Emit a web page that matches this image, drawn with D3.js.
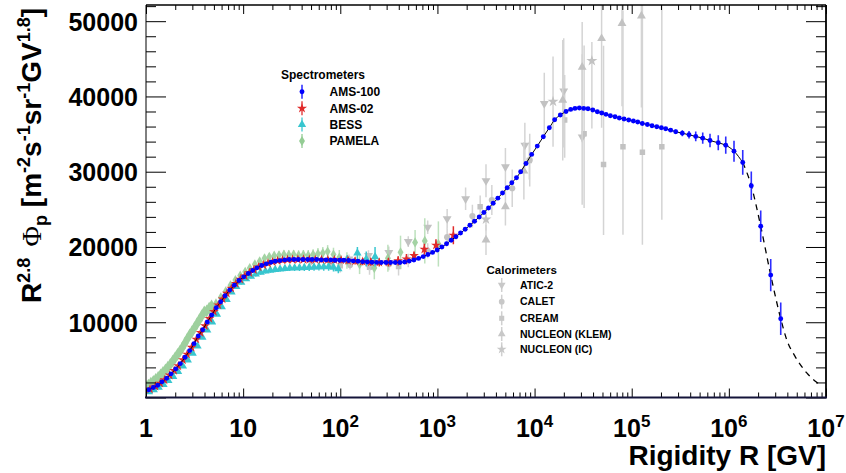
<!DOCTYPE html>
<html>
<head>
<meta charset="utf-8">
<script src="https://cdn.jsdelivr.net/npm/d3@7/dist/d3.min.js"></script>
<style>
  body { margin: 0; background: #fff; }
  svg text { font-family: "Liberation Sans", Arial, Helvetica, sans-serif; font-weight: bold; }
</style>
</head>
<body>
<svg id="chart" width="846" height="473"></svg>
<script>
// ---- data: rows are [rigidity GV, R^2.8 flux, err low, err high] ----
const ams100 = [
  [1.066,1020,0],[1.189,1325,0],[1.32,1630,0],[1.461,2080,0],[1.634,2560,0],[1.809,3140,0],
  [2.022,3800,0],[2.255,4505,0],[2.52,5340,0],[2.818,6230,0],[3.12,7155,0],[3.455,8175,0],
  [3.835,9010,0],[4.277,10030,0],[4.746,10960,0],[5.292,11925,0],[5.875,12720,0],[6.508,13515,0],
  [7.272,14270,0],[8.11,14930,0],[9.07,15540,0],[10.13,16030,0],[11.3,16470,0],[12.54,16870,0],
  [13.89,17225,0],[15.52,17530,0],[17.31,17755,0],[19.36,17980,0],[21.43,18110,0],[23.96,18190,0],
  [26.78,18285,0],[29.87,18325,0],[33.4,18325,0],[37.0,18325,0],[41.3,18325,0],[46.2,18325,0],
  [51.2,18325,0],[57.2,18325,0],[63.8,18285,0],[71.3,18285,0],[79.7,18285,0],[88.3,18245,0],
  [98.6,18245,0],[109,18230,0],[121.9,18200,0],[136.1,18150,0],[152.1,18100,0],[169.8,18050,0],
  [189.7,18000,0],[211.8,17970,0],[236.6,17950,0],[264.2,17940,0],[295.1,17930,0],[329.6,17930,0],
  [368.1,17930,0],[411.1,17940,0],[459.2,18000,0],[512.9,18120,0],[572.8,18280,0],[639.7,18480,0],
  [714.5,18720,0],[798,19000,0],[891.3,19280,0],[995.4,19600,0],[1112,20000,0],[1242,20430,0],
  [1387,20890,0],[1549,21360,0],[1730,21850,0],[1932,22350,0],[2158,22880,0],[2410,23420,0],
  [2692,23990,0],[3006,24570,0],[3357,25170,0],[3750,25810,0],[4188,26490,0],[4677,27160,0],
  [5224,27860,0],[5834,28540,0],[6516,29200,0],[7194,30000,0],[8166,31100,0],[9333,32300,0],
  [10666,33400,0],[12303,34650,0],[14191,35840,0],[16106,36900,0],[18408,37525,0],[21086,38010,0],
  [23550,38280,0],[26062,38410,0],[28907,38465,0],[32063,38410,0],[35481,38370,0],[39719,38200,0],
  [44259,37975,0],[49091,37790,0],[54325,37620,0],[60256,37445,0],[67298,37310,0],[74473,37125,0],
  [83368,36995,0],[93111,36860,0],[103992,36730,0],[115345,36600,0],[128529,36410,0],[144877,36280,0],
  [161808,36105,0],[181134,35975,0],[201837,35840,150],[223872,35710,200],[251768,35520,250],
  [283792,35310,300],[331894,35125,400],[389045,34900,500],[456037,34690,650],[538270,34460,750],
  [639735,34145,900],[778037,33840,1000],[928966,33520,1150],[1129795,32730,1400],[1389953,31230,1650],
  [1702159,28130,1900],[2128139,22750,2100],[2697739,16260,2150],[3419794,10470,2150]
];
// extrapolated model beyond the last solid segment
const modelTail = [
  [1389953,31230],[1702159,28130],[2128139,22750],[2697739,16260],[3419794,10470],
  [3940000,7685],[4800000,5470],[6340000,3270],[8020000,2030],[8500000,1800]
];
const ams02 = [
  [1.1,1100,30],[1.25,1470,35],[1.4,1890,40],[1.55,2330,45],[1.75,2960,50],[1.95,3580,60],
  [2.15,4190,70],[2.4,4990,80],[2.65,5750,90],[2.95,6650,100],[3.3,7730,110],[3.65,8610,120],
  [4.05,9510,130],[4.5,10490,140],[5.0,11420,150],[5.55,12280,160],[6.15,13080,170],[6.8,13830,180],
  [7.55,14500,190],[8.4,15130,200],[9.35,15690,210],[10.4,16140,220],[11.6,16560,230],[12.9,16950,240],
  [14.4,17330,250],[16.1,17610,260],[18,17840,270],[20.1,18030,280],[22.6,18160,290],[25.4,18250,300],
  [28.6,18310,300],[32.2,18330,310],[36.6,18340,320],[41.8,18340,330],[48,18330,340],[55.3,18320,350],
  [64.1,18310,360],[74.5,18300,380],[86.9,18280,400],[102,18250,420],[120,18200,440],[142,18130,460],
  [170,18060,480],[206,18000,500],[252,17950,530],[313,17980,570],[394,18150,620],[480,18400,680],
  [574,18860,500],[733,19700,730],[966,20230,780],[1459,21560,1200]
];
const bess = [
  [1.072,760,30],[1.202,1030,30],[1.349,1360,40],[1.514,1730,50],[1.698,2230,60],[1.905,2780,70],
  [2.138,3450,80],[2.399,4160,90],[2.692,4980,100],[3.02,5870,120],[3.388,6830,130],[3.802,7990,150],
  [4.266,8940,160],[4.786,10010,180],[5.37,11040,200],[6.026,12030,220],[6.761,13000,240],[7.586,14000,250],
  [8.511,14750,260],[9.55,15300,270],[10.72,15750,280],[12.02,16100,290],[13.49,16380,300],[15.14,16620,310],
  [16.98,16780,320],[19.05,16900,330],[21.38,16990,340],[23.99,17060,350],[26.92,17130,360],[30.2,17190,380],
  [33.88,17210,400],[38.02,17230,420],[42.66,17250,440],[47.86,17280,460],[53.7,17310,480],[60.26,17360,500],
  [67.61,17350,520],[75.86,17380,540],[85.11,17300,560],[95.5,17090,580],
  [118,18300,600],[150,19200,800],[185,18400,1000],[228,18700,1300]
];
const pamelaBand = [
  [1.0,1460],[1.059,1640],[1.122,1890],[1.189,2140],[1.259,2390],[1.334,2660],[1.413,3000],
  [1.496,3330],[1.585,3660],[1.679,4030],[1.778,4400],[1.884,4840],[1.995,5270],[2.113,5720],
  [2.239,6160],[2.371,6650],[2.512,7200],[2.661,7780],[2.818,8320],[2.985,8770],[3.162,9280],
  [3.35,9810],[3.548,10330],[3.758,10860],[3.981,11360],[4.217,11500],[4.467,11850],[4.732,12150]
];
const pamela = [
  [5.25,12500,200],[5.89,13300,250],[6.61,14100,250],[7.41,14900,300],[8.32,15600,300],[9.33,16200,350],
  [10.5,16700,400],[11.7,17200,400],[13.2,17700,450],[14.8,18100,450],[16.6,18500,500],[18.6,18700,500],
  [20.9,18850,500],[23.4,18900,550],[26.3,19000,550],[29.5,18950,600],[33.1,19000,600],[37.2,18900,650],
  [41.7,18950,650],[46.8,18900,700],[52.5,19000,700],[58.9,19100,750],[66.1,19200,800],[74.1,19400,850],
  [85.1,19000,900],[97.7,18600,1000],[117,18200,1100],[158,17700,1300],[224,17200,1500],[309,18500,1800],
  [417,19300,2200],[589,20600,1650],[741,20800,3000],[1023,20400,3000]
];
const atic2 = [
  [50.1,18200,400],[79.4,18000,500],[123,18400,600],[195,18860,700],[316,19250,800],[501,20710,700],
  [794,22620,900],[1259,23750,1300],[1950,26400,1500],[3162,28800,2200],[5012,30650,2500],[7943,33520,3000],
  [12589,39050,4100],[19953,40730,7500,7000],[30903,34600,9000,11000]
];
const calet = [
  [50.1,18100,400],[79.4,17900,500],[126,17600,600],[200,17500,700],[316,17700,800],[501,18200,900],
  [794,19500,1000],[1259,21300,1200],[2291,24100,1500],[3631,26240,2000],[5888,27800,2500],[8913,31540,3500]
];
const cream = [
  [100,17500,900],[200,17300,1000],[398,17400,1200],[2754,25350,1500],[8831,31480,2500],
  [20417,36860,5000,6000],[32359,35030,9860,11740],[51286,30950,9350,15800],
  [81283,33310,11700,18100],[128825,32600,12300,20000],[204174,33310,9700,18800]
];
const nucleonKlem = [
  [3162,20935,2000],[5012,25350,2500],[7762,30100,3800],[19498,39500,8000],
  [30903,43900,10000,6000],[48978,47700,11870,10000],[79433,49700,11000,8000],[125893,50700,12170,5000]
];
const nucleonIC = [
  [3162,23680,1500],[15488,39310,6000],[38905,44730,9000,2500]
];

const xDecades = [1, 10, 100, 1e3, 1e4, 1e5, 1e6, 1e7];
const yMajor = [0, 10000, 20000, 30000, 40000, 50000];

// ---- layout ----
const width = 846, height = 473;
const frame = { left: 146, right: 826, top: 5, bottom: 397.5 };

const svg = d3.select("#chart");

const x = d3.scaleLog().domain([1, 1e7]).range([frame.left, frame.right]);
const y = d3.scaleLinear().domain([0, 52150]).range([frame.bottom, frame.top]);

svg.append("defs").append("clipPath").attr("id", "clip")
  .append("rect")
  .attr("x", frame.left).attr("y", frame.top)
  .attr("width", frame.right - frame.left).attr("height", frame.bottom - frame.top);

const plot = svg.append("g").attr("clip-path", "url(#clip)");

// draws error bars and markers of one series
function drawSeries(rows, o) {
  const g = plot.append("g").attr("opacity", o.opacity || 1);
  g.selectAll("line.err")
    .data(rows.filter(d => (d[2] || 0) > 0))
    .join("line")
    .attr("class", "err")
    .attr("x1", d => x(d[0])).attr("x2", d => x(d[0]))
    .attr("y1", d => y(d[1] - d[2]))
    .attr("y2", d => y(d[1] + (d[3] !== undefined ? d[3] : d[2])))
    .attr("stroke", o.bar)
    .attr("stroke-width", o.barWidth || 1.5);
  g.selectAll("path.mk")
    .data(rows)
    .join("path")
    .attr("class", "mk")
    .attr("transform", d => `translate(${x(d[0])},${y(d[1])})${o.flip ? " rotate(180)" : ""}`)
    .attr("d", d3.symbol().type(o.symbol).size(o.size))
    .attr("fill", o.color);
}

const grey = { color: "#c2c2c2", bar: "#d4d4d4", size: 34 };

// calorimeters (behind)
drawSeries(cream, { ...grey, symbol: d3.symbolSquare, size: 30 });
drawSeries(calet, { ...grey, symbol: d3.symbolCircle, size: 30 });
drawSeries(atic2, { ...grey, symbol: d3.symbolTriangle, flip: true });
drawSeries(nucleonKlem, { ...grey, symbol: d3.symbolTriangle });
drawSeries(nucleonIC, { ...grey, symbol: d3.symbolStar, size: 38 });

// spectrometers
drawSeries(pamelaBand.map(d => [d[0], d[1], 0]),
  { color: "#94cc94", bar: "#a9d9a9", symbol: d3.symbolDiamond, size: 48, opacity: 0.9 });
drawSeries(pamela, { color: "#94cc94", bar: "#b2dcb2", symbol: d3.symbolDiamond, size: 30, opacity: 0.85 });
drawSeries(bess, { color: "#38c6cf", bar: "#38c6cf", symbol: d3.symbolTriangle, size: 30 });
drawSeries(ams02, { color: "#e02a2a", bar: "#e02a2a", symbol: d3.symbolStar, size: 30 });

// AMS-100 model line, solid then dashed
const line = d3.line().x(d => x(d[0])).y(d => y(d[1])).curve(d3.curveMonotoneX);
plot.append("path")
  .datum(ams100.filter(d => d[0] <= 1.4e6))
  .attr("fill", "none").attr("stroke", "#000").attr("stroke-width", 1)
  .attr("d", line);
plot.append("path")
  .datum(modelTail)
  .attr("fill", "none").attr("stroke", "#000").attr("stroke-width", 1.3)
  .attr("stroke-dasharray", "6,5")
  .attr("d", line);
drawSeries(ams100, { color: "#0000ff", bar: "#2d2dff", symbol: d3.symbolCircle, size: 19, barWidth: 1.6 });

// ---- axes (ticks inside the frame, ROOT style) ----
const xMinor = [];
xDecades.slice(0, -1).forEach(d => { for (let k = 2; k <= 9; k++) xMinor.push(d * k); });
const yMinor = d3.range(2000, 52001, 2000).filter(v => v % 10000 !== 0);

function tickAxis(axis, tr) {
  const g = svg.append("g").attr("transform", tr).call(axis);
  g.select(".domain").remove();
  g.selectAll(".tick line").attr("stroke", "#000").attr("stroke-width", 1);
  return g;
}
tickAxis(d3.axisBottom(x).tickValues(xDecades).tickSizeInner(-9).tickSizeOuter(0).tickFormat(""), `translate(0,${frame.bottom})`);
tickAxis(d3.axisBottom(x).tickValues(xMinor).tickSizeInner(-5).tickSizeOuter(0).tickFormat(""), `translate(0,${frame.bottom})`);
tickAxis(d3.axisTop(x).tickValues(xDecades).tickSizeInner(-9).tickSizeOuter(0).tickFormat(""), `translate(0,${frame.top})`);
tickAxis(d3.axisTop(x).tickValues(xMinor).tickSizeInner(-5).tickSizeOuter(0).tickFormat(""), `translate(0,${frame.top})`);
const yAxisG = tickAxis(d3.axisLeft(y).tickValues(yMajor).tickSizeInner(-20).tickSizeOuter(0).tickPadding(8)
  .tickFormat(d => d === 0 ? "" : d), `translate(${frame.left},0)`);
tickAxis(d3.axisLeft(y).tickValues(yMinor).tickSizeInner(-10).tickSizeOuter(0).tickFormat(""), `translate(${frame.left},0)`);
tickAxis(d3.axisRight(y).tickValues(yMajor).tickSizeInner(-20).tickSizeOuter(0).tickFormat(""), `translate(${frame.right},0)`);
tickAxis(d3.axisRight(y).tickValues(yMinor).tickSizeInner(-10).tickSizeOuter(0).tickFormat(""), `translate(${frame.right},0)`);

yAxisG.attr("font-size", 25).attr("font-family", null);
yAxisG.selectAll(".tick text").attr("fill", "#000").attr("dy", "0.36em");

// frame
svg.append("line").attr("x1", frame.left).attr("x2", frame.right).attr("y1", frame.top).attr("y2", frame.top)
  .attr("stroke", "#000").attr("stroke-width", 1.5);
svg.append("line").attr("x1", frame.right).attr("x2", frame.right).attr("y1", frame.top).attr("y2", frame.bottom)
  .attr("stroke", "#000").attr("stroke-width", 1.8);
svg.append("line").attr("x1", frame.left).attr("x2", frame.left).attr("y1", frame.top).attr("y2", frame.bottom)
  .attr("stroke", "#000").attr("stroke-width", 1);
svg.append("line").attr("x1", frame.left - 1).attr("x2", frame.right + 1).attr("y1", frame.bottom).attr("y2", frame.bottom)
  .attr("stroke", "#14143a").attr("stroke-width", 2.2);

// x tick labels: 1, 10, 10^n
xDecades.forEach((d, i) => {
  const t = svg.append("text")
    .attr("x", x(d)).attr("y", 437)
    .attr("text-anchor", "middle")
    .attr("font-size", 25);
  if (i < 2) {
    t.text(d);
  } else {
    t.append("tspan").text("10");
    t.append("tspan").attr("dy", -10).attr("font-size", 17).text(i);
  }
});

// axis titles
svg.append("text")
  .attr("x", frame.right).attr("y", 465)
  .attr("text-anchor", "end")
  .attr("font-size", 28)
  .text("Rigidity R [GV]");

const yTitle = svg.append("text")
  .attr("transform", "translate(41,8) rotate(-90)")
  .attr("text-anchor", "end")
  .attr("font-size", 28);
const yParts = [
  ["R"], ["2.8", "sup"], ["\u2009\u2009"], ["\u03A6", "sym"], ["p", "sub"], [" [m"], ["-2", "sup"], ["s"],
  ["-1", "sup"], ["sr"], ["-1", "sup"], ["GV"], ["1.8", "sup"], ["]"]
];
let shift = 0;
yParts.forEach(([s, kind]) => {
  const ts = yTitle.append("tspan").text(s);
  let target = 0;
  if (kind === "sup") { ts.attr("font-size", 18); target = -11; }
  if (kind === "sub") { ts.attr("font-size", 18); target = 6; }
  if (kind === "sym") ts.attr("font-family", "'Liberation Serif', 'DejaVu Serif', serif").attr("font-weight", "normal");
  ts.attr("dy", target - shift);
  shift = target;
});

// ---- legends ----
const legendSpec = [
  { title: "Spectrometers", tx: 281, ty: 75, tsize: 12, mx: 302, lx: 329.5, size: 12, rows: [
    { label: "AMS-100", y: 91.7, color: "#0000ff", symbol: d3.symbolCircle, s: 19 },
    { label: "AMS-02", y: 108.3, color: "#e02a2a", symbol: d3.symbolStar, s: 32 },
    { label: "BESS", y: 124.5, color: "#38c6cf", symbol: d3.symbolTriangle, s: 30 },
    { label: "PAMELA", y: 141, color: "#94cc94", symbol: d3.symbolDiamond, s: 30 }
  ]},
  { title: "Calorimeters", tx: 486.5, ty: 270, tsize: 11.5, mx: 501.7, lx: 520, size: 10.5, rows: [
    { label: "ATIC-2", y: 285, color: "#c8c8c8", symbol: d3.symbolTriangle, s: 26, flip: true },
    { label: "CALET", y: 301.7, color: "#c8c8c8", symbol: d3.symbolCircle, s: 26 },
    { label: "CREAM", y: 318.3, color: "#c8c8c8", symbol: d3.symbolSquare, s: 26 },
    { label: "NUCLEON (KLEM)", y: 334, color: "#c8c8c8", symbol: d3.symbolTriangle, s: 26 },
    { label: "NUCLEON (IC)", y: 349.3, color: "#c8c8c8", symbol: d3.symbolStar, s: 30 }
  ]}
];
legendSpec.forEach(L => {
  svg.append("text").attr("x", L.tx).attr("y", L.ty + 0.36 * L.tsize)
    .attr("font-size", L.tsize).text(L.title);
  L.rows.forEach(r => {
    svg.append("line").attr("x1", L.mx).attr("x2", L.mx).attr("y1", r.y - 7).attr("y2", r.y + 7)
      .attr("stroke", r.color).attr("stroke-width", 1.5).attr("opacity", 0.85);
    svg.append("path")
      .attr("transform", `translate(${L.mx},${r.y})${r.flip ? " rotate(180)" : ""}`)
      .attr("d", d3.symbol().type(r.symbol).size(r.s))
      .attr("fill", r.color);
    svg.append("text").attr("x", L.lx).attr("y", r.y + 0.36 * L.size)
      .attr("font-size", L.size).text(r.label);
  });
});
</script>
</body>
</html>
